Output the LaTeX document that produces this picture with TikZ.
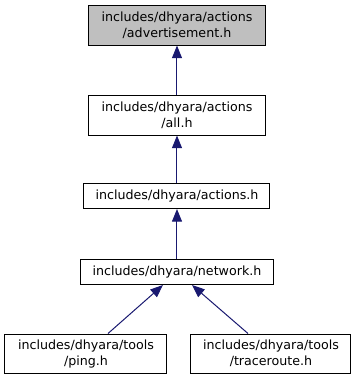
\documentclass[tikz,border=0pt]{standalone}
\usepackage{fontspec}
\setmainfont{DejaVu Sans}
\usetikzlibrary{arrows.meta}
\definecolor{edgeblue}{HTML}{191970}
\definecolor{nodegray}{HTML}{BFBFBF}
\tikzset{
  filebox/.style={draw=black, line width=0.75pt, fill=white, align=center,
    inner sep=0pt, font=\fontsize{9.5}{12}\selectfont},
  focusbox/.style={filebox, fill=nodegray},
  incl/.style={draw=edgeblue, line width=0.75pt,
    -{Triangle[length=9.5pt,width=7.5pt,fill=edgeblue]}}
}
\begin{document}
\begin{tikzpicture}[x=0.75pt,y=-0.75pt]
  \useasboundingbox (0,0) rectangle (357,380);
  \node[focusbox, minimum width=177*0.75pt, minimum height=40*0.75pt] (adv) at (177,25)
    {includes/dhyara/actions\\/advertisement.h};
  \node[filebox, minimum width=177*0.75pt, minimum height=40*0.75pt] (all) at (177,115)
    {includes/dhyara/actions\\/all.h};
  \node[filebox, minimum width=186*0.75pt, minimum height=25*0.75pt] (act) at (177,196)
    {includes/dhyara/actions.h};
  \node[filebox, minimum width=193*0.75pt, minimum height=25*0.75pt] (net) at (177,272)
    {includes/dhyara/network.h};
  \node[filebox, minimum width=162*0.75pt, minimum height=39*0.75pt] (ping) at (86,353.5)
    {includes/dhyara/tools\\/ping.h};
  \node[filebox, minimum width=160*0.75pt, minimum height=39*0.75pt] (trace) at (271,353.5)
    {includes/dhyara/tools\\/traceroute.h};
  \draw[incl] (all) -- (adv);
  \draw[incl] (act) -- (all);
  \draw[incl] (net) -- (act);
  \draw[incl] (ping.north -| 108,0) -- (net.south -| 163,0);
  \draw[incl] (trace.north -| 248,0) -- (net.south -| 192,0);
\end{tikzpicture}
\end{document}
